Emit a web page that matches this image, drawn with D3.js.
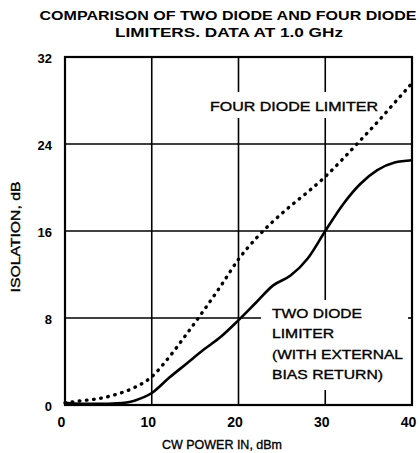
<!DOCTYPE html>
<html>
<head>
<meta charset="utf-8">
<script src="https://cdn.jsdelivr.net/npm/d3@7"></script>
<style>
  html, body { margin: 0; padding: 0; background: #fff; }
  svg { display: block; }
  text { font-family: "Liberation Sans", Arial, Helvetica, sans-serif; fill: #000; }
  .medium { stroke: #000; stroke-width: 0.35px; }
</style>
</head>
<body>
<svg id="chart" width="420" height="453"></svg>
<script>
// ---- data ----
const cwPower = [0, 2, 4, 6, 8, 10, 12, 14, 16, 18, 20, 22, 24, 26, 28, 30, 32, 34, 36, 38, 40];
const fourDiode = [0.2, 0.4, 0.6, 1.0, 1.6, 2.6, 4.4, 6.5, 8.7, 11.0, 13.4, 15.3, 16.9, 18.3, 19.6, 21.0, 22.6, 24.3, 26.0, 27.8, 29.6];
const twoDiode = [0.2, 0.1, 0.1, 0.15, 0.4, 1.1, 2.5, 3.8, 5.1, 6.3, 7.8, 9.4, 11.0, 11.9, 13.5, 16.0, 18.4, 20.3, 21.6, 22.3, 22.5];
const xTicks = [0, 10, 20, 30, 40];
const yTicks = [0, 8, 16, 24, 32];
const titleLines = ["COMPARISON OF TWO DIODE AND FOUR DIODE", "LIMITERS. DATA AT 1.0 GHz"];
const xTitle = "CW POWER IN, dBm";
const yTitle = "ISOLATION, dB";
const fourLabel = ["FOUR DIODE LIMITER"];
const twoLabel = ["TWO DIODE", "LIMITER", "(WITH EXTERNAL", "BIAS RETURN)"];

// ---- layout ----
const svg = d3.select("#chart");
const mLeft = 65, mRight = 412, mTop = 57, mBottom = 405;
const x = d3.scaleLinear().domain([0, 40]).range([mLeft, mRight]);
const y = d3.scaleLinear().domain([0, 32]).range([mBottom, mTop]);

// title
svg.append("text").attr("x", 228).attr("y", 20).attr("text-anchor", "middle")
  .attr("font-size", 13).attr("font-weight", "bold")
  .attr("textLength", 377).attr("lengthAdjust", "spacingAndGlyphs").text(titleLines[0]);
svg.append("text").attr("x", 229).attr("y", 37).attr("text-anchor", "middle")
  .attr("font-size", 13).attr("font-weight", "bold")
  .attr("textLength", 228).attr("lengthAdjust", "spacingAndGlyphs").text(titleLines[1]);

const grid = svg.append("g").attr("stroke", "#000").attr("stroke-width", 1.6).attr("fill", "none");
// horizontal grid lines
[24, 16].forEach(v => grid.append("line").attr("x1", x(0)).attr("x2", x(40)).attr("y1", y(v)).attr("y2", y(v)));
grid.append("line").attr("x1", x(0)).attr("x2", x(22.6)).attr("y1", y(8)).attr("y2", y(8));
grid.append("line").attr("x1", x(39.5)).attr("x2", x(40)).attr("y1", y(8)).attr("y2", y(8));
// vertical grid lines
[10, 20, 30].forEach(v => grid.append("line").attr("x1", x(v)).attr("x2", x(v)).attr("y1", y(32)).attr("y2", y(0)));

// white boxes behind annotations (they cut the grid)
svg.append("rect").attr("x", 206).attr("y", 92).attr("width", 176).attr("height", 26).attr("fill", "#fff");
svg.append("rect").attr("x", 268).attr("y", 300).attr("width", 140).attr("height", 90).attr("fill", "#fff");

// frame
svg.append("rect").attr("x", mLeft).attr("y", mTop).attr("width", mRight - mLeft).attr("height", mBottom - mTop)
  .attr("fill", "none").attr("stroke", "#000").attr("stroke-width", 2.2);

// axes (labels only)
const xAxis = d3.axisBottom(x).tickValues(xTicks).tickSize(0).tickPadding(12).tickFormat(d3.format("d"));
const gx = svg.append("g").attr("transform", `translate(-4,${mBottom})`).call(xAxis);
gx.select(".domain").remove();
gx.selectAll("text").attr("font-size", 14).attr("font-weight", "bold")
  .attr("font-family", "'Liberation Sans', Arial, sans-serif");

const yAxis = d3.axisLeft(y).tickValues(yTicks).tickSize(0).tickPadding(13).tickFormat(d3.format("d"));
const gy = svg.append("g").attr("transform", `translate(${mLeft},1)`).call(yAxis);
gy.select(".domain").remove();
gy.selectAll("text").attr("font-size", 13).attr("font-weight", "bold")
  .attr("font-family", "'Liberation Sans', Arial, sans-serif");

// axis titles
svg.append("text").attr("class", "medium").attr("x", 222).attr("y", 449).attr("text-anchor", "middle")
  .attr("font-size", 13).attr("textLength", 120).attr("lengthAdjust", "spacingAndGlyphs").text(xTitle);
svg.append("text").attr("class", "medium").attr("transform", "translate(20,237) rotate(-90)").attr("text-anchor", "middle")
  .attr("font-size", 13).attr("textLength", 111).attr("lengthAdjust", "spacingAndGlyphs").text(yTitle);

// annotations
svg.append("text").attr("class", "medium").attr("x", 210).attr("y", 111).attr("font-size", 13)
  .attr("textLength", 168).attr("lengthAdjust", "spacingAndGlyphs").text(fourLabel[0]);
const twoWidths = [90, 62, 131, 111];
twoLabel.forEach((t, i) => {
  svg.append("text").attr("class", "medium").attr("x", 272).attr("y", 318 + i * 20.3).attr("font-size", 13)
    .attr("textLength", twoWidths[i]).attr("lengthAdjust", "spacingAndGlyphs").text(t);
});

// data lines
const line = d3.line().x((d, i) => x(cwPower[i])).y(d => y(d)).curve(d3.curveMonotoneX);
svg.append("path").datum(twoDiode).attr("d", line).attr("fill", "none")
  .attr("stroke", "#000").attr("stroke-width", 2.6);
svg.append("path").datum(fourDiode).attr("d", line).attr("fill", "none")
  .attr("stroke", "#000").attr("stroke-width", 3.4).attr("stroke-linecap", "round")
  .attr("stroke-dasharray", "0.6,6.6");
</script>
</body>
</html>
